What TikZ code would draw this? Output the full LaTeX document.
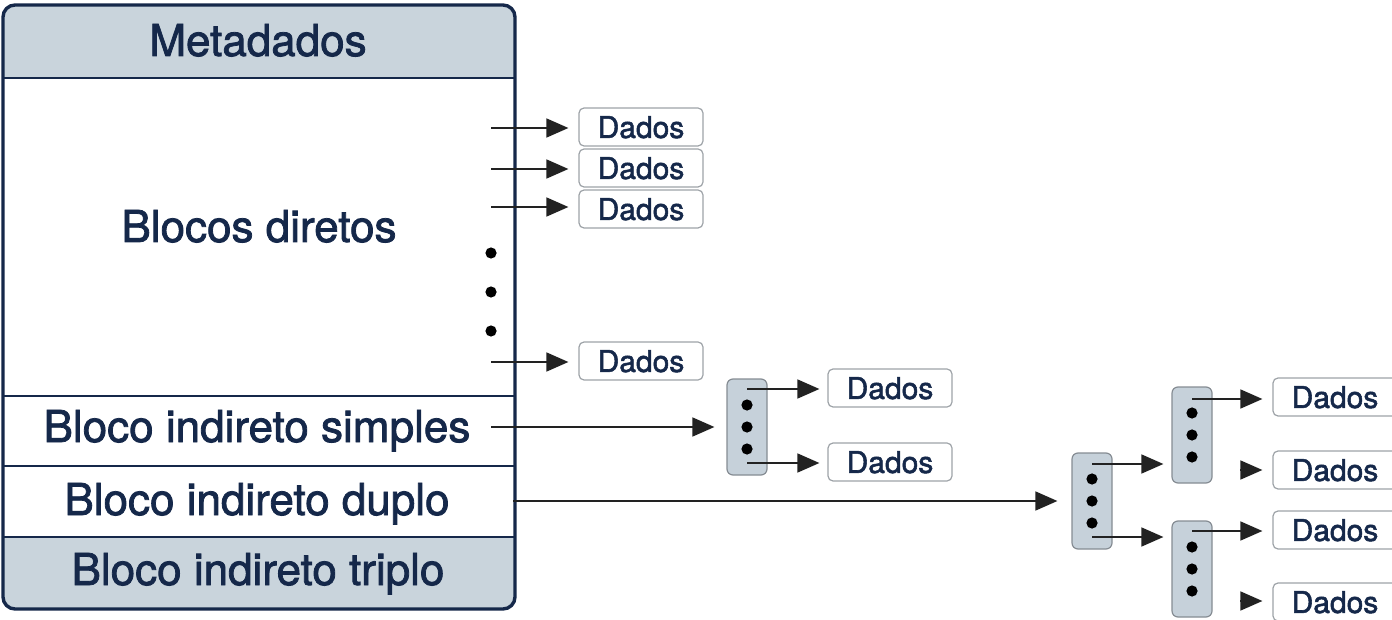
\documentclass[tikz,border=0pt]{standalone}
\usepackage{fontspec}
\setmainfont[FakeBold=1.8]{TeX Gyre Heros}
\usetikzlibrary{arrows.meta,calc}
\definecolor{navy}{HTML}{15284A}
\definecolor{panel}{HTML}{C9D4DC}
\definecolor{blk}{HTML}{C6D1DA}
\definecolor{blkedge}{HTML}{858C93}
\definecolor{dbox}{HTML}{9EA3A8}
\definecolor{arrowc}{HTML}{222222}
\begin{document}
\begin{tikzpicture}[x=0.5pt,y=-0.5pt,
  lbl/.style={font=\fontsize{22}{26}\selectfont, text=navy, anchor=base, inner sep=0},
  dados/.style={draw=dbox, line width=0.6pt, rounded corners=2.5pt, fill=white, minimum width=62pt, minimum height=19pt, inner sep=0, font=\fontsize{15}{18}\selectfont, text=navy, text depth=0pt},
  ptr/.style={draw=blkedge, fill=blk, line width=0.6pt, rounded corners=3pt, minimum width=20pt, minimum height=48pt, inner sep=0},
  arr/.style={draw=arrowc, line width=0.8pt, -{Triangle[length=11pt,width=9.5pt]}, shorten >=5pt},
  dot/.style={circle, fill=black, inner sep=0, minimum size=5.6pt}]
\useasboundingbox (0,0) rectangle (1392,620);
\clip (0,0) rectangle (1392,620);

% main box
\begin{scope}
  \clip[rounded corners=6pt] (3,5) rectangle (515,609);
  \fill[panel] (3,5) rectangle (515,78);
  \fill[panel] (3,537) rectangle (515,609);
\end{scope}
\draw[navy, line width=1.4pt] (3,78) -- (515,78);
\draw[navy, line width=1.4pt] (3,396) -- (515,396);
\draw[navy, line width=1.4pt] (3,466) -- (515,466);
\draw[navy, line width=1.4pt] (3,537) -- (515,537);
\draw[navy, line width=1.7pt, rounded corners=6pt] (3,5) rectangle (515,609);

\node[lbl] (meta) at (258,56) {Metadados};
\node[lbl] (dir) at (259,242) {Blocos diretos};
\node[lbl] (sim) at (257,442) {Bloco indireto simples};
\node[lbl] (dup) at (257,515) {Bloco indireto duplo};
\node[lbl] (tri) at (258,585) {Bloco indireto triplo};

% dots in direct area
\node[dot] (m1) at (491,253) {};
\node[dot] (m2) at (491,292) {};
\node[dot] (m3) at (491,331) {};

% data boxes, first column
\node[dados] (d1) at (641,127) {Dados};
\node[dados] (d2) at (641,168) {Dados};
\node[dados] (d3) at (641,209) {Dados};
\node[dados] (d4) at (641,361) {Dados};

% pointer blocks
\node[ptr] (b1) at (747,427) {};
\node[ptr] (b2) at (1092,501) {};
\node[ptr] (b3) at (1192,435) {};
\node[ptr] (b4) at (1192,569) {};

\foreach \b in {b1,b2,b3,b4}{
  \node[dot] at ($(\b.center)+(0,-22)$) {};
  \node[dot] at ($(\b.center)+(0,0)$) {};
  \node[dot] at ($(\b.center)+(0,22)$) {};
}

% data boxes, other columns
\node[dados] (d5) at (890,388) {Dados};
\node[dados] (d6) at (890,462) {Dados};
\node[dados] (d7) at (1335,397) {Dados};
\node[dados] (d8) at (1335,470) {Dados};
\node[dados] (d9) at (1335,530) {Dados};
\node[dados] (d10) at (1335,602) {Dados};

% start coordinates
\coordinate (a1) at (491,128);
\coordinate (a2) at (491,169);
\coordinate (a3) at (491,207);
\coordinate (a4) at (491,362);
\coordinate (as) at (491,427);
\coordinate (ad) at (513,501);
\coordinate (c1) at (747,389);
\coordinate (c2) at (747,463);
\coordinate (e1) at (1092,464);
\coordinate (e2) at (1092,537);
\coordinate (f1) at (1192,399);
\coordinate (f2) at (1240,470);
\coordinate (g1) at (1192,531);
\coordinate (g2) at (1240,601);

\draw[arr] (a1) -- (a1 -| d1.west);
\draw[arr] (a2) -- (a2 -| d2.west);
\draw[arr] (a3) -- (a3 -| d3.west);
\draw[arr] (a4) -- (a4 -| d4.west);
\draw[arr, shorten >=6pt] (as) -- (as -| b1.west);
\draw[arr, shorten >=7pt] (ad) -- (ad -| b2.west);
\draw[arr, shorten >=4pt] (c1) -- (c1 -| d5.west);
\draw[arr, shorten >=4pt] (c2) -- (c2 -| d6.west);
\draw[arr, shorten >=4pt] (e1) -- (e1 -| b3.west);
\draw[arr, shorten >=4pt] (e2) -- (e2 -| b4.west);
\draw[arr] (f1) -- (f1 -| d7.west);
\draw[arr] (f2) -- (f2 -| d8.west);
\draw[arr] (g1) -- (g1 -| d9.west);
\draw[arr] (g2) -- (g2 -| d10.west);
\end{tikzpicture}
\end{document}
